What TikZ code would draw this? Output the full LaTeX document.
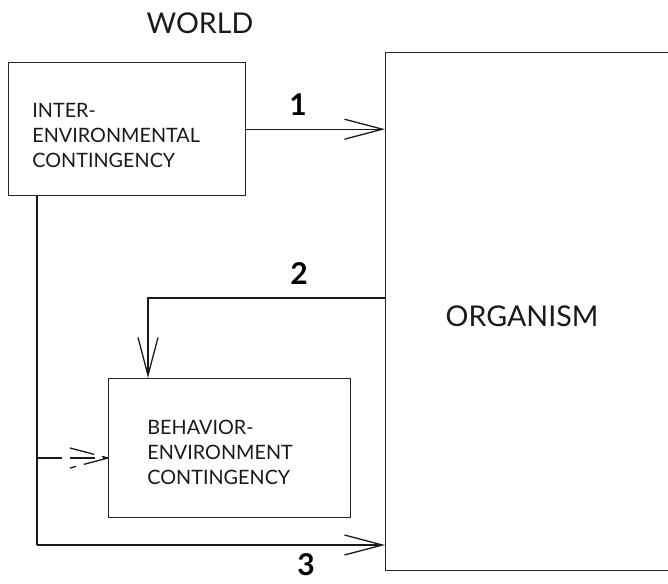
\documentclass[tikz,border=0pt]{standalone}
\usepackage{fontspec}
\setmainfont{Lato}
\usetikzlibrary{calc,arrows.meta}
\tikzset{
	box/.style={draw=black!85, line width=0.7pt, inner sep=0pt},
	boxtext/.style={align=left, inner sep=0pt, text=black!90, font=\fontsize{9.9}{12.5}\selectfont},
	bigtext/.style={inner sep=0pt, text=black!90, font=\fontsize{14.3}{17}\selectfont},
	numlabel/.style={inner sep=0pt, text=black, font=\fontsize{15}{17}\selectfont\bfseries},
	conn/.style={line width=0.65pt, draw=black!90},
	arr/.style={conn, -{Straight Barb[length=19pt,width=10pt]}},
	dashconn/.style={conn, dash pattern=on 12.5pt off 4pt},
}

\begin{document}
\begin{tikzpicture}[x=0.5pt,y=-0.5pt]
			%%%%% START %%%%%
			\useasboundingbox (0,0) rectangle (668,583);
			
			\node[bigtext] (world) at (200,23) {WORLD};
			
			% the three boxes
			\node[box, minimum width=118.5pt, minimum height=66.5pt, anchor=north west] (inter) at (8,62) {};
			\node[boxtext, anchor=north west] (intertext) at (32,103) {INTER-\\ENVIRONMENTAL\\CONTINGENCY};
			
			\node[box, minimum width=121pt, minimum height=69.5pt, anchor=north west] (behav) at (108,378) {};
			\node[boxtext, anchor=north west] (behavtext) at (147,420) {BEHAVIOR-\\ENVIRONMENT\\CONTINGENCY};
			
			\node[box, minimum width=150pt, minimum height=259pt, anchor=north west] (org) at (385,52) {};
			\node[bigtext] (orgtext) at (522,316) {ORGANISM};
			
			% 1
			\draw[arr] (inter.east) -- (inter.east -| org.west);
			\node[numlabel] (n1) at (298,105) {1};
			
			% 2
			\coordinate (fbstart) at (org.west |- 0,298);
			\coordinate (fbend) at ($(behav.north west)+(40,0)$);
			\draw[arr] (fbstart) -| (fbend);
			\node[numlabel] (n2) at (299,274) {2};
			
			% 3
			\coordinate (split) at ($(inter.south west)+(29,0)$);
			\coordinate (corner) at (split |- 0,545);
			\draw[conn] (split) -- (corner);
			\draw[arr] (corner) -- (corner -| org.west);
			\node[numlabel] (n3) at (306,565) {3};
			
			% dashed one
			\coordinate (dstart) at (split |- 0,458);
			\coordinate (dtip) at (dstart -| behav.west);
			\draw[dashconn] (dstart) -- (dtip);
			\draw[dashconn] ($(dtip)+(-38,-10)$) -- (dtip);
			\draw[dashconn] (dtip) -- ($(dtip)+(-38,10)$);
			
			%%%%% END %%%%%
\end{tikzpicture}
\end{document}
